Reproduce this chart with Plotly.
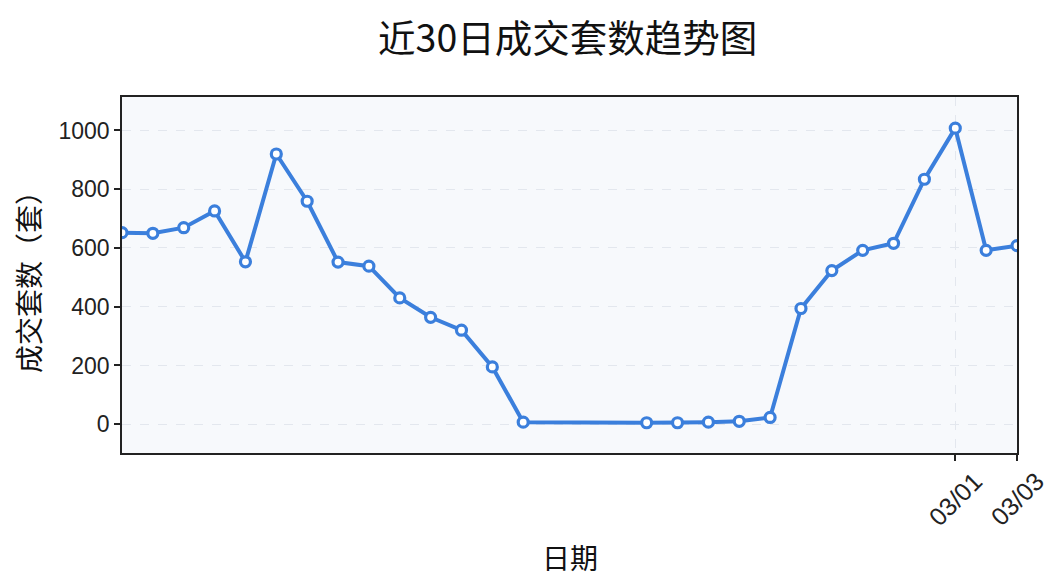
import plotly.graph_objects as go

dates = ["2024-02-03", "2024-02-04", "2024-02-05", "2024-02-06", "2024-02-07",
         "2024-02-08", "2024-02-09", "2024-02-10", "2024-02-11", "2024-02-12",
         "2024-02-13", "2024-02-14", "2024-02-15", "2024-02-16",
         "2024-02-20", "2024-02-21", "2024-02-22", "2024-02-23", "2024-02-24",
         "2024-02-25", "2024-02-26", "2024-02-27", "2024-02-28", "2024-02-29",
         "2024-03-01", "2024-03-02", "2024-03-03"]
counts = [652, 650, 669, 726, 553, 920, 759, 552, 538, 430,
          364, 320, 195, 7,
          5, 5, 7, 10, 23, 394, 523, 592, 616, 834,
          1008, 592, 608]
tick_vals = ["2024-03-01", "2024-03-03"]
tick_text = ["03/01", "03/03"]
y_ticks = [0, 200, 400, 600, 800, 1000]

title_text = "近30日成交套数趋势图"
x_title = "日期"
y_title = "成交套数（套）"

BLUE = "#3b7fdc"
CJK = "Noto Sans CJK SC"
TICKF = "Liberation Sans"

fig = go.Figure()
fig.add_trace(go.Scatter(
    x=dates, y=counts, mode="lines+markers",
    line=dict(color=BLUE, width=4),
    marker=dict(size=10, color="white", line=dict(color=BLUE, width=3.2)),
    showlegend=False,
))

fig.update_layout(
    width=1064, height=585,
    paper_bgcolor="white",
    plot_bgcolor="#f7f9fc",
    margin=dict(l=114, r=55, t=89, b=140),
    title=dict(text=title_text, x=0.526, xanchor="center", y=0.948, yanchor="middle",
               font=dict(family=CJK, size=37.5, color="#111")),
    font=dict(family=CJK, color="#222"),
)
fig.update_xaxes(
    type="date",
    range=[dates[0], dates[-1]],
    tickmode="array", tickvals=tick_vals, ticktext=tick_text,
    showticklabels=False,
    ticks="outside", ticklen=6, tickwidth=1.5, tickcolor="#222",
    showline=True, linecolor="#222", linewidth=1.5, mirror=True,
    showgrid=True, gridcolor="#e3e7ee", griddash="dash", gridwidth=1,
    zeroline=False,
)
fig.update_yaxes(
    range=[-98, 1114],
    tickmode="array", tickvals=y_ticks,
    tickfont=dict(family=TICKF, size=23, color="#222"),
    ticks="outside", ticklen=6, tickwidth=1.5, tickcolor="#222",
    showline=True, linecolor="#222", linewidth=1.5, mirror=True,
    showgrid=True, gridcolor="#e3e7ee", griddash="dash", gridwidth=1,
    zeroline=False,
    title=dict(text=y_title, font=dict(family=CJK, size=28, color="#111"), standoff=16),
)

# rotated date tick labels, centred on their ticks
for tv, tt in zip(tick_vals, tick_text):
    fig.add_annotation(
        x=tv, xref="x", y=0, yref="paper",
        text=tt, textangle=-45, showarrow=False,
        xanchor="center", yanchor="top", yshift=-11,
        font=dict(family=TICKF, size=25, color="#222"),
    )

fig.add_annotation(
    x=0.5, xref="paper", y=0, yref="paper",
    text=x_title, showarrow=False,
    xanchor="center", yanchor="middle", yshift=-104,
    font=dict(family=CJK, size=28, color="#111"),
)

fig.write_html("out.html")
